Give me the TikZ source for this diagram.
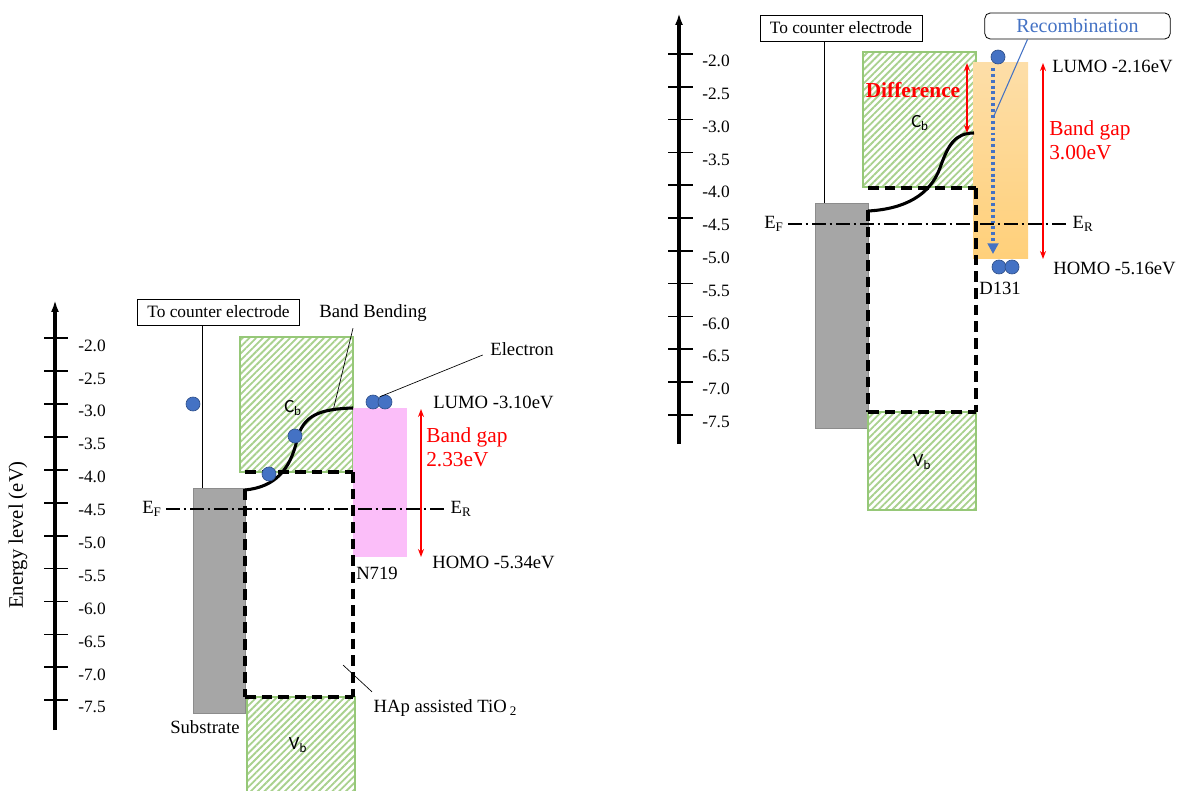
\documentclass[tikz,border=0pt]{standalone}
\usepackage{fontspec}
\setmainfont{Liberation Serif}
\newfontfamily\bandfont{Carlito}
\usetikzlibrary{arrows.meta,patterns.meta,calc}

\definecolor{hatch}{RGB}{169,209,142}
\definecolor{hatchline}{RGB}{150,200,120}
\definecolor{substrate}{RGB}{166,166,166}
\definecolor{substrateline}{RGB}{140,140,140}
\definecolor{dyepink}{RGB}{251,190,249}
\definecolor{dyetop}{RGB}{253,222,168}
\definecolor{dyebottom}{RGB}{255,208,122}
\definecolor{elblue}{RGB}{68,114,196}
\definecolor{gapred}{RGB}{255,0,0}

\begin{document}
\begin{tikzpicture}[x=0.75pt, y=-0.75pt, font=\fontsize{14}{17}\selectfont, >=Latex,
  band/.style={draw=hatchline, line width=0.8pt, pattern={Lines[angle=45,distance=3.6pt,line width=1.4pt]}, pattern color=hatch},
  metal/.style={fill=substrate, draw=substrateline, line width=0.6pt},
  gapline/.style={line width=2.4pt, dash pattern=on 8pt off 4.5pt},
  fermi/.style={line width=1.9pt, dash pattern=on 10pt off 3pt on 2pt off 3pt},
  bendline/.style={line width=2.3pt},
  electron/.style={circle, fill=elblue, draw=elblue!70!black, line width=0.5pt, inner sep=0pt, minimum size=10.5pt},
  tag/.style={draw, line width=0.6pt, font=\fontsize{13}{15}\selectfont, minimum width=121.5pt, minimum height=19.5pt, inner sep=0pt},
  ticklab/.style={font=\fontsize{13}{15}\selectfont},
  leader/.style={line width=0.5pt},
  gaparrow/.style={gapred, line width=1.1pt, {Stealth[length=6pt,width=4.5pt]}-{Stealth[length=6pt,width=4.5pt]}},
  gaplab/.style={gapred, font=\fontsize{16}{18}\selectfont, align=left, anchor=west, inner sep=0pt},
  bandlab/.style={font=\bandfont\fontsize{14}{16}\selectfont}
]
  \useasboundingbox (0,0) rectangle (1181,791);

  % Energy axis (left)
  \draw[line width=2.3pt, -{Latex[length=9pt,width=6pt]}] (55,730) -- (55,300);
  \foreach \lab [count=\i from 0] in {-2.0,-2.5,-3.0,-3.5,-4.0,-4.5,-5.0,-5.5,-6.0,-6.5,-7.0,-7.5}{
    \draw[line width=1.3pt] (44,{338.3+32.9*\i}) -- (68,{338.3+32.9*\i});
    \node[ticklab] (ltick\i) at (92,{345.5+32.9*\i}) {\lab};
  }
  \node[rotate=90, font=\fontsize{15.5}{18}\selectfont] (ylab) at (18,535) {Energy level (eV)};

  % Energy axis (right)
  \draw[line width=2.3pt, -{Latex[length=9pt,width=6pt]}] (679,444) -- (679,13);
  \foreach \lab [count=\i from 0] in {-2.0,-2.5,-3.0,-3.5,-4.0,-4.5,-5.0,-5.5,-6.0,-6.5,-7.0,-7.5}{
    \draw[line width=1.3pt] (668,{54+32.8*\i}) -- (693,{54+32.8*\i});
    \node[ticklab] (rtick\i) at (716,{61+32.8*\i}) {\lab};
  }

  % N719 cell
  \node[tag] (tagL) at (218.5,312) {To counter electrode};
  \draw[metal] (193,488) rectangle (245,713);
  \coordinate (subL) at (202,488);
  \draw[leader] (tagL.south -| subL) -- (subL);
  \node (subLlab) at (205,727) {Substrate};
  \draw[band] (240,337) rectangle (353,472);
  \node[bandlab] (cbL) at (293,408) {C\textsubscript{b}};
  \fill[dyepink] (353,408) rectangle (407,557);
  \draw[band] (247,697) rectangle (355,792);
  \node[bandlab] (vbL) at (298,745) {V\textsubscript{b}};
  \draw[gapline] (245,472) -- (353,472);
  \draw[gapline] (245,489) -- (245,697);
  \draw[gapline] (353,472) -- (353,697);
  \draw[gapline] (245,697) -- (353,697);
  \draw[bendline] (245,490) .. controls (275,487) and (290,470) .. (297,440)
                  .. controls (303,415) and (320,409) .. (353,408);
  \node (efL) at (152,509) {E\textsubscript{F}};
  \node (erL) at (461,509) {E\textsubscript{R}};
  \draw[fermi] (efL.east) -- (erL.west);

  \node[electron] (eL1) at (193,404) {};
  \node[electron] (eL2) at (269,474) {};
  \node[electron] (eL3) at (295,436) {};
  \node[electron] (eL4) at (373,402) {};
  \node[electron] (eL5) at (385,402) {};

  \node (elab) at (522,349) {Electron};
  \draw[leader] ($(elab.west)+(-3,6)$) -- (eL5.north west);
  \node (bblab) at (373,313) {Band Bending};
  \coordinate (bbend) at (333,411);
  \draw[leader] ($(bblab.south)+(-20,2)$) -- (bbend);
  \node (hap) [anchor=west] at (369,708) {HAp assisted TiO\,\textsubscript{2}};
  \coordinate (hapend) at (343,665);
  \draw[leader] ($(hap.north west)+(3,-3)$) -- (hapend);
  \node (n719) at (377,573) {N719};

  \coordinate (lumoL) at (421,409);
  \coordinate (homoL) at (421,557);
  \draw[gaparrow] (lumoL) -- (homoL);
  \node[gaplab] (bgL) at (426,447) {Band gap\\2.33eV};
  \node[anchor=west, inner sep=0pt] (lumoLlab) at (433,402) {LUMO -3.10eV};
  \node[anchor=west, inner sep=0pt] (homoLlab) at (432,562) {HOMO -5.34eV};

  % D131 cell
  \node[tag] (tagR) at (841,28) {To counter electrode};
  \draw[metal] (815,203) rectangle (868,428);
  \coordinate (subR) at (824,203);
  \draw[leader] (tagR.south -| subR) -- (subR);
  \draw[band] (863,52) rectangle (976,187);
  \node[bandlab] (cbR) at (920,123) {C\textsubscript{b}};
  \shade[top color=dyetop, bottom color=dyebottom] (973,63) rectangle (1028,259);
  \draw[band] (868,412) rectangle (976,510);
  \node[bandlab] (vbR) at (922,462) {V\textsubscript{b}};
  \draw[gapline] (868,188) -- (976,188);
  \draw[gapline] (868,210) -- (868,412);
  \draw[gapline] (976,188) -- (976,412);
  \draw[gapline] (868,412) -- (976,412);
  \draw[bendline] (868,211) .. controls (905,209) and (930,195) .. (940,168)
                  .. controls (948,145) and (955,133) .. (974,133);
  \node (efR) at (774,224) {E\textsubscript{F}};
  \node (erR) at (1083,224) {E\textsubscript{R}};
  \draw[fermi] (efR.east) -- (erR.west);

  \node[electron] (eR1) at (998,57) {};
  \node[electron] (eR2) at (999,267) {};
  \node[electron] (eR3) at (1012,267) {};

  \coordinate (recTop) at (993,68);
  \coordinate (recBot) at (993,254);
  \draw[elblue, line width=2.6pt, dash pattern=on 2.2pt off 2.2pt, -{Triangle[length=8pt,width=8pt]}] (recTop) -- (recBot);
  \node[draw, rounded corners=4pt, line width=0.6pt, text=elblue, font=\fontsize{15}{18}\selectfont, minimum width=139pt, minimum height=19.5pt, inner sep=0pt] (recLab) at (1077.5,26) {Recombination};
  \coordinate (recEnd) at (993,118);
  \draw[elblue, line width=0.8pt] ($(recLab.south)+(-50,0)$) -- (recEnd);

  \coordinate (diffTop) at (967,63);
  \coordinate (diffBot) at (967,133);
  \draw[gaparrow] (diffTop) -- (diffBot);
  \node[gapred, font=\bfseries\fontsize{16}{18}\selectfont] (diff) at (913,90) {Difference};

  \coordinate (lumoR) at (1043,63);
  \coordinate (homoR) at (1043,259);
  \draw[gaparrow] (lumoR) -- (homoR);
  \node[gaplab] (bgR) at (1049,140) {Band gap\\3.00eV};
  \node[anchor=west, inner sep=0pt] (lumoRlab) at (1052,66) {LUMO -2.16eV};
  \node[anchor=west, inner sep=0pt] (homoRlab) at (1053,268) {HOMO -5.16eV};
  \node (d131) at (1000,288) {D131};
\end{tikzpicture}
\end{document}
